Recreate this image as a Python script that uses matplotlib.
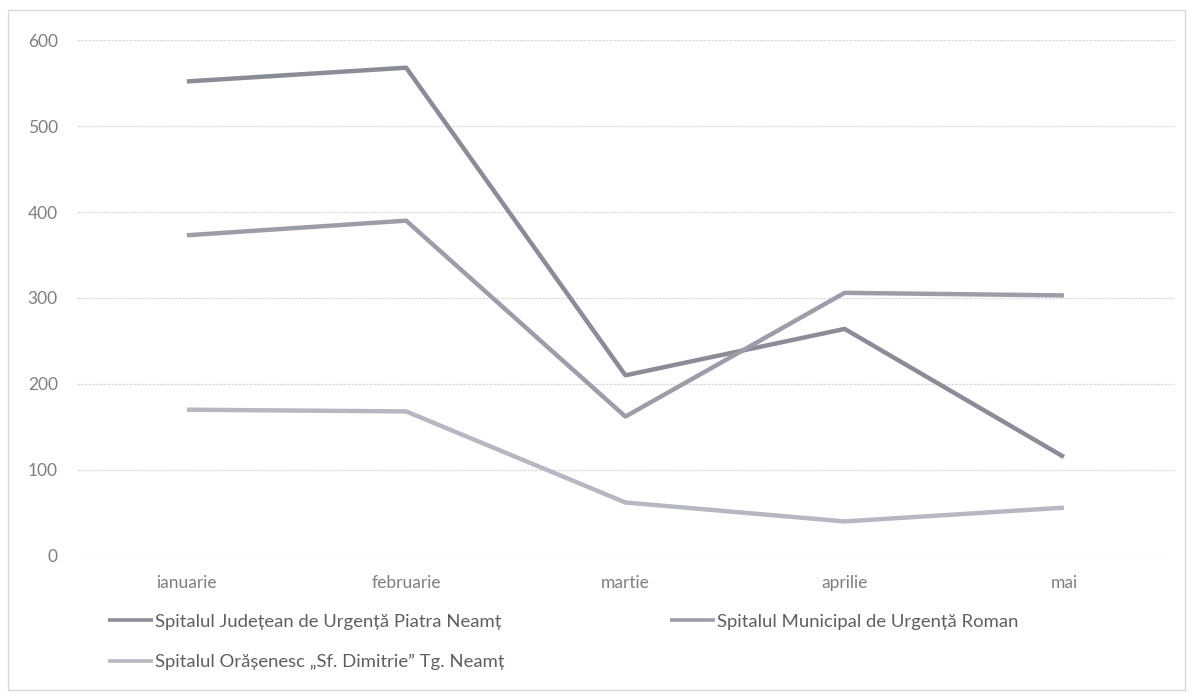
import numpy as np
import matplotlib.pyplot as plt
from matplotlib.patches import Rectangle

luni = ['ianuarie', 'februarie', 'martie', 'aprilie', 'mai']
judetean = [552, 568, 210, 264, 115]
municipal = [373, 390, 162, 306, 303]
orasenesc = [170, 168, 62, 40, 56]
nume = ['Spitalul Județean de Urgență Piatra Neamț',
        'Spitalul Municipal de Urgență Roman',
        'Spitalul Orășenesc „Sf. Dimitrie” Tg. Neamț']
culori = ['#8c8c99', '#9d9daa', '#b7b7c3']

plt.rcParams['font.family'] = ['Lato', 'DejaVu Sans']

fig = plt.figure(figsize=(11.89, 6.93), dpi=100)
ax = fig.add_axes([0.065, 0.198, 0.922, 0.744])

x = np.arange(len(luni))
linii = []
for serie, eticheta, c in zip([judetean, municipal, orasenesc], nume, culori):
    l, = ax.plot(x, serie, color=c, lw=3.2, label=eticheta, solid_capstyle='butt')
    linii.append(l)

ax.set_xlim(-0.5, 4.5)
ax.set_ylim(0, 600)
ax.set_yticks(range(0, 601, 100))
ax.set_xticks(x)
ax.set_xticklabels(luni)
ax.grid(axis='y', color='#d9d9d9', lw=0.9, ls=(0, (2, 1)))
ax.set_axisbelow(True)
for s in ax.spines.values():
    s.set_visible(False)
ax.tick_params(length=0, labelsize=12.5, labelcolor='#7f7f7f')
ax.tick_params(axis='y', pad=14)
ax.tick_params(axis='x', pad=14)

# ordinea ca sa iasa pe randuri: Judetean, Municipal / Orasenesc
ordine = [0, 2, 1]
leg = fig.legend([linii[i] for i in ordine], [nume[i] for i in ordine],
                 loc='upper left', bbox_to_anchor=(0.085, 0.125), ncol=2,
                 frameon=False, fontsize=13.3, handlelength=2.4, handletextpad=0.1,
                 columnspacing=9.0, labelspacing=1.3, borderaxespad=0)
for t in leg.get_texts():
    t.set_color('#5f5f5f')
for h in leg.get_lines():
    h.set_linewidth(2.6)

fig.patches.append(Rectangle((0.007, 0.005), 0.99, 0.98, transform=fig.transFigure,
                             fill=False, ec='#d9d9d9', lw=1))

plt.savefig('out.png')
